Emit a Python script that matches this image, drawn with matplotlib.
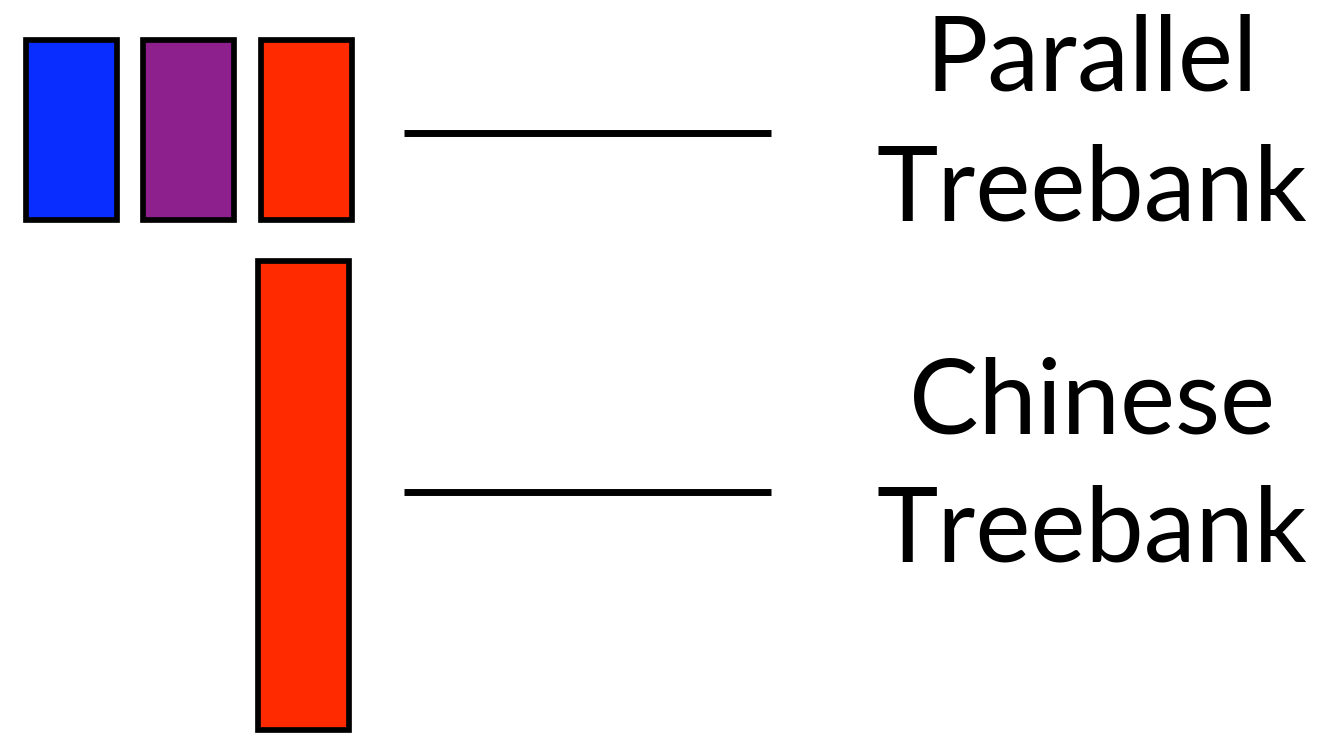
import matplotlib
matplotlib.use("Agg")
import matplotlib.pyplot as plt

# диаграмма в пиксельных координатах холста 1326x748
W, H = 1326, 748

# верхняя группа: три коротких блока (параллельный трибанк)
par_colors = ["#0a2dff", "#8e208e", "#ff2a00"]
par_left   = [25.8, 142.8, 260.8]
par_top    = 39.8
par_height = 180.4
par_width  = 90.8

# нижний блок: один длинный (китайский трибанк)
chn_color  = "#ff2a00"
chn_left   = 257.8
chn_top    = 260.8
chn_height = 469.4
chn_width  = 91.4

# соединительные линии
line_x = [404, 771]
line_y = [133, 492]

# подписи: строки и их базовые линии
labels = [("Parallel", 90), ("Treebank", 220), ("Chinese", 433), ("Treebank", 562)]
label_x = 1092

fig = plt.figure(figsize=(W / 100, H / 100), dpi=100)
ax = fig.add_axes([0, 0, 1, 1])
ax.set_xlim(0, W)
ax.set_ylim(H, 0)
ax.axis("off")

ax.bar(par_left, [par_height] * 3, width=par_width, bottom=par_top, align="edge",
       color=par_colors, edgecolor="black", linewidth=4.1)
ax.bar(chn_left, chn_height, width=chn_width, bottom=chn_top, align="edge",
       color=chn_color, edgecolor="black", linewidth=4.1)

for y in line_y:
    ax.plot(line_x, [y, y], color="black", linewidth=5.0, solid_capstyle="butt")

for txt, y in labels:
    ax.text(label_x, y, txt, ha="center", va="baseline", fontsize=75,
            family=["Lato", "DejaVu Sans"], color="black")

fig.savefig("out.png", dpi=100)
